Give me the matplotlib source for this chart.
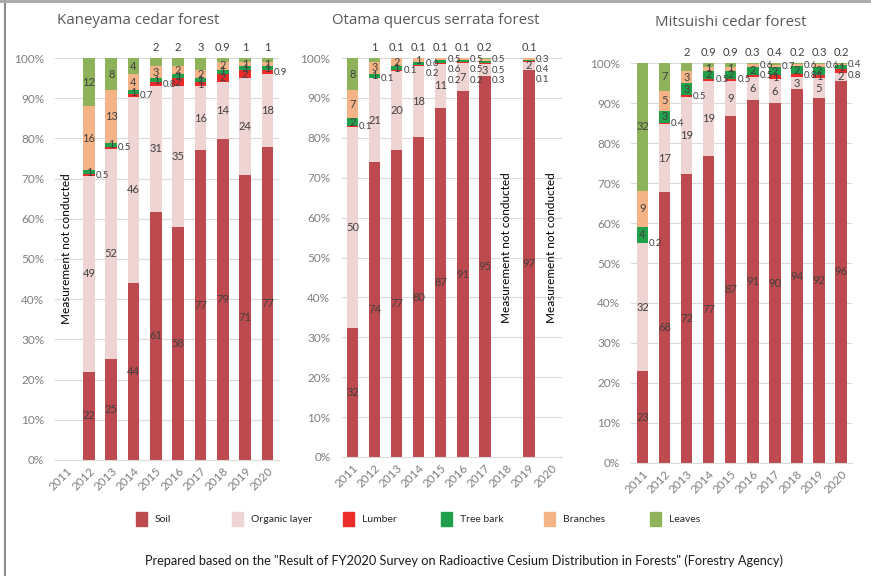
import numpy as np
import matplotlib.pyplot as plt
from matplotlib.patches import Rectangle
from matplotlib.lines import Line2D

plt.rcParams['font.family'] = ['Lato', 'DejaVu Sans']

nan = np.nan
years = [str(y) for y in range(2011, 2021)]
parts = ['Soil', 'Organic layer', 'Lumber', 'Tree bark', 'Branches', 'Leaves']
colors = ['#BC4A4E', '#EFD4D4', '#EC2B2B', '#20A04B', '#F5B487', '#8EB35B']

# Kaneyama cedar forest (2011 not measured)
kaneyama_soil = [nan, 22, 25, 44, 61, 58, 77, 79, 71, 77]
kaneyama_organic = [nan, 49, 52, 46, 31, 35, 16, 14, 24, 18]
kaneyama_lumber = [nan, 0.5, 0.5, 0.7, 0.8, 2, 1, 2, 2, 0.9]
kaneyama_bark = [nan, 1, 1, 1, 1, 1, 1, 1, 1, 1]
kaneyama_branches = [nan, 16, 13, 4, 3, 2, 2, 2, 1, 1]
kaneyama_leaves = [nan, 12, 8, 4, 2, 2, 3, 0.9, 1, 1]

# Otama quercus serrata forest (2018, 2020 not measured)
otama_soil = [32, 74, 77, 80, 87, 91, 95, nan, 97, nan]
otama_organic = [50, 21, 20, 18, 11, 7, 3, nan, 2, nan]
otama_lumber = [0.1, 0.1, 0.1, 0.2, 0.2, 0.2, 0.3, nan, 0.1, nan]
otama_bark = [2, 1, 1, 0.6, 0.6, 0.5, 0.5, nan, 0.4, nan]
otama_branches = [7, 3, 2, 1, 0.5, 0.5, 0.5, nan, 0.3, nan]
otama_leaves = [8, 1, 0.1, 0.1, 0.1, 0.1, 0.2, nan, 0.1, nan]

# Mitsuishi cedar forest
mitsuishi_soil = [23, 68, 72, 77, 87, 91, 90, 94, 92, 96]
mitsuishi_organic = [32, 17, 19, 19, 9, 6, 6, 3, 5, 2]
mitsuishi_lumber = [0.2, 0.4, 0.5, 0.5, 0.5, 0.5, 1, 0.8, 1, 0.8]
mitsuishi_bark = [4, 3, 3, 2, 2, 2, 2, 2, 2, 1]
mitsuishi_branches = [9, 5, 3, 1, 1, 0.6, 0.7, 0.6, 0.6, 0.4]
mitsuishi_leaves = [32, 7, 2, 0.9, 0.9, 0.3, 0.4, 0.2, 0.3, 0.2]

forests = [
    ('Kaneyama cedar forest',
     [kaneyama_soil, kaneyama_organic, kaneyama_lumber, kaneyama_bark, kaneyama_branches, kaneyama_leaves],
     [0], [0.0637, 0.2014, 0.2561, 0.6979], (57, 21, 'left')),
    ('Otama quercus serrata forest',
     [otama_soil, otama_organic, otama_lumber, otama_bark, otama_branches, otama_leaves],
     [7, 9], [0.3921, 0.2066, 0.2532, 0.6927], (436, 20, 'center')),
    ('Mitsuishi cedar forest',
     [mitsuishi_soil, mitsuishi_organic, mitsuishi_lumber, mitsuishi_bark, mitsuishi_branches, mitsuishi_leaves],
     [], [0.7250, 0.1962, 0.2532, 0.6944], (731, 23, 'center')),
]

W, H = 871, 576
fig = plt.figure(figsize=(W / 100, H / 100), dpi=100)
gray = '#7f7f7f'
lab_col = '#404040'

for title, series, missing, rect, (tx, ty, tha) in forests:
    ax = fig.add_axes(rect)
    data = np.array(series, dtype=float)
    shares = data / data.sum(axis=0) * 100
    x = np.arange(len(years))
    bottom = np.zeros(len(years))
    side = {i: [] for i in range(len(years))}  # small segments, labelled beside the bar
    for k in range(len(parts)):
        ax.bar(x, shares[k], 0.52, bottom=bottom, color=colors[k], zorder=2)
        for i in range(len(years)):
            v = data[k, i]
            if np.isnan(v):
                continue
            ymid = bottom[i] + shares[k, i] / 2
            if k == 5 and v < 4:
                ax.text(i, 101.2, f'{v:g}', ha='center', va='bottom', fontsize=8, color=lab_col)
            elif v < 1:
                side[i].append((ymid, v))
            else:
                ax.text(i, ymid, f'{v:g}', ha='center', va='center', fontsize=8, color=lab_col)
        bottom += np.nan_to_num(shares[k])

    # spread the small labels downward so they do not pile up
    for i, items in side.items():
        prev = None
        for ymid, v in sorted(items, reverse=True):
            y = ymid if prev is None else min(ymid, prev - 2.6)
            ax.text(i + 0.3, y, f'{v:g}', ha='left', va='center', fontsize=7, color=lab_col)
            prev = y

    for i in missing:
        ax.text(i, 52.5, 'Measurement not conducted', rotation=90, ha='center', va='center',
                fontsize=8.5, color='black')

    ax.set_xlim(-0.5, len(years) - 0.5)
    ax.set_ylim(0, 100)
    ax.set_xticks(x)
    ax.set_xticklabels(years, rotation=45, ha='right', rotation_mode='anchor')
    ax.set_yticks(range(0, 101, 10))
    ax.set_yticklabels([f'{t}%' for t in range(0, 101, 10)])
    ax.tick_params(length=0, colors=gray, labelsize=8.5)
    ax.tick_params(axis='y', pad=8)
    ax.tick_params(axis='x', pad=4)
    ax.yaxis.grid(True, color='#dadada', lw=0.8, zorder=0)
    ax.set_axisbelow(True)
    for s in ['top', 'right', 'left']:
        ax.spines[s].set_visible(False)
    ax.spines['bottom'].set_color('#dadada')
    ax.patch.set_alpha(0)

    fig.text(tx / W, 1 - ty / H, title, ha=tha, va='center', fontsize=10.8, color='#595959',
             family=['Open Sans', 'DejaVu Sans'])

# legend, drawn by hand to keep the evenly spaced slots
leg_x = [136, 232, 343, 441, 544, 650]
for k, name in enumerate(parts):
    fig.add_artist(Rectangle((leg_x[k] / W, 1 - 526 / H), 11 / W, 14 / H,
                             transform=fig.transFigure, color=colors[k]))
    fig.text((leg_x[k] + 19) / W, 1 - 519 / H, name, ha='left', va='center', fontsize=7.5, color='#262626')

fig.text(464 / W, 1 - 561 / H,
         'Prepared based on the "Result of FY2020 Survey on Radioactive Cesium Distribution in Forests" (Forestry Agency)',
         ha='center', va='center', fontsize=9.2, color='#1a1a1a')

# frame edges of the original slide
fig.add_artist(Line2D([5 / W, 5 / W], [0, 1], transform=fig.transFigure, color='#8c8c8c', lw=1.5))
fig.add_artist(Line2D([0, 1], [1 - 1 / H, 1 - 1 / H], transform=fig.transFigure, color='#a6a6a6', lw=2))

fig.savefig('out.png', dpi=100)
